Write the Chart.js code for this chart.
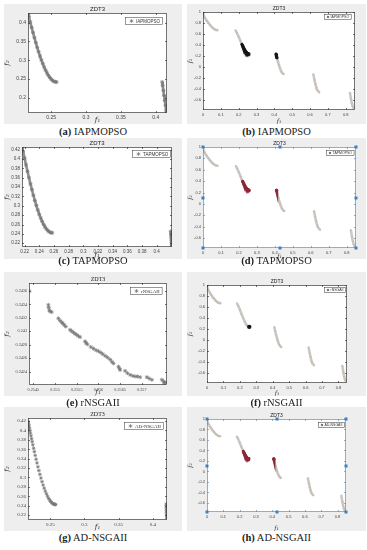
<!DOCTYPE html>
<html>
<head>
<meta charset="utf-8">
<script src="https://cdn.jsdelivr.net/npm/chart.js@4.4.0/dist/chart.umd.min.js"></script>
<style>
body { margin: 0; width: 367px; height: 550px; position: relative; overflow: hidden; background: #fff; }
.panel { position: absolute; background: #eeeeee; }
.cap { position: absolute; text-align: center; font-family: "Liberation Serif", serif; font-size: 10.5px; line-height: 12px; color: #222; }
</style>
</head>
<body>
<div class="panel" style="left:4px;top:4px;width:178px;height:120px"><canvas id="ca"></canvas></div>
<div class="panel" style="left:187px;top:4px;width:179px;height:120px"><canvas id="cb"></canvas></div>
<div class="panel" style="left:4px;top:138px;width:178px;height:121px"><canvas id="cc"></canvas></div>
<div class="panel" style="left:187px;top:138px;width:179px;height:121px"><canvas id="cd"></canvas></div>
<div class="panel" style="left:4px;top:272px;width:178px;height:124px"><canvas id="ce"></canvas></div>
<div class="panel" style="left:187px;top:272px;width:179px;height:124px"><canvas id="cf"></canvas></div>
<div class="panel" style="left:4px;top:407px;width:178px;height:124px"><canvas id="cg"></canvas></div>
<div class="panel" style="left:187px;top:407px;width:179px;height:124px"><canvas id="ch"></canvas></div>

<div class="cap" style="left:4px;top:126px;width:178px"><b>(a)</b> IAPMOPSO</div>
<div class="cap" style="left:187px;top:126px;width:179px"><b>(b)</b> IAPMOPSO</div>
<div class="cap" style="left:4px;top:255px;width:178px"><b>(c)</b> TAPMOPSO</div>
<div class="cap" style="left:187px;top:255px;width:179px"><b>(d)</b> TAPMOPSO</div>
<div class="cap" style="left:4px;top:397px;width:178px"><b>(e)</b> rNSGAII</div>
<div class="cap" style="left:187px;top:397px;width:179px"><b>(f)</b> rNSGAII</div>
<div class="cap" style="left:4px;top:532px;width:178px"><b>(g)</b> AD-NSGAII</div>
<div class="cap" style="left:187px;top:532px;width:179px"><b>(h)</b> AD-NSGAII</div>

<script>
// ZDT3 second front piece (zoomed panels a, c and the highlighted parts on the right)
var curveX = [0.2168, 0.218, 0.220, 0.222, 0.224, 0.226, 0.228, 0.230, 0.232, 0.234, 0.236, 0.238, 0.240, 0.242, 0.244, 0.246, 0.248, 0.250, 0.252, 0.254, 0.256, 0.2578];
var curveY = [0.4252, 0.4163, 0.4017, 0.3873, 0.3734, 0.3599, 0.3468, 0.3344, 0.3225, 0.3112, 0.3007, 0.2909, 0.2819, 0.2737, 0.2664, 0.2600, 0.2545, 0.2500, 0.2465, 0.2440, 0.2426, 0.2422];
var seg3X = [0.4093, 0.410, 0.411, 0.412, 0.413, 0.414, 0.415, 0.4155];
var seg3Y = [0.2423, 0.2330, 0.2197, 0.2065, 0.1933, 0.1803, 0.1674, 0.1610];

// (c) points on the right edge
var cEdgeX = [0.4192, 0.4194, 0.4196, 0.4198, 0.4200, 0.4202, 0.4203, 0.4204, 0.4205];
var cEdgeY = [0.2455, 0.2415, 0.2375, 0.2335, 0.2295, 0.2255, 0.2215, 0.2175, 0.2135];

// (e) rNSGAII solutions
var eX = [0.254408, 0.254846, 0.254854, 0.254869, 0.254885, 0.254923, 0.255077, 0.255115, 0.255154, 0.255177,
          0.255208, 0.255246, 0.255346, 0.255385, 0.255423, 0.255462, 0.255500, 0.255538, 0.255577, 0.255692,
          0.255715, 0.255746, 0.255823, 0.255885, 0.255946, 0.256000, 0.256054, 0.256100, 0.256154, 0.256208,
          0.256269, 0.256308, 0.256346, 0.256462, 0.256485, 0.256500, 0.256615, 0.256669, 0.256731, 0.256792,
          0.256846, 0.256900, 0.256962, 0.257115, 0.257169, 0.257231, 0.257462, 0.257500, 0.257515, 0.257538];
var eY = [0.243600, 0.243394, 0.243355, 0.243316, 0.243296, 0.243287, 0.243193, 0.243159, 0.243135, 0.243120,
          0.243096, 0.243071, 0.243022, 0.243002, 0.242983, 0.242963, 0.242949, 0.242929, 0.242914, 0.242851,
          0.242826, 0.242807, 0.242767, 0.242743, 0.242718, 0.242704, 0.242684, 0.242660, 0.242635, 0.242611,
          0.242581, 0.242547, 0.242522, 0.242473, 0.242444, 0.242424, 0.242410, 0.242376, 0.242351, 0.242336,
          0.242327, 0.242327, 0.242317, 0.242317, 0.242297, 0.242278, 0.242278, 0.242253, 0.242229, 0.242238];

// (g) AD-NSGAII solutions
var gX = [0.2176, 0.2180, 0.2185, 0.2190, 0.2196, 0.2203, 0.2210, 0.2218, 0.2227, 0.2236, 0.2246, 0.2257, 0.2268,
          0.2280, 0.2293, 0.2306, 0.2320, 0.2334, 0.2349, 0.2364, 0.2380, 0.2396, 0.2412, 0.2428, 0.2444, 0.2460,
          0.2476, 0.2492, 0.2506, 0.2519, 0.2531, 0.2542, 0.2552, 0.2561, 0.2570, 0.2578];
var gY = [0.4193, 0.4163, 0.4127, 0.4090, 0.4046, 0.3995, 0.3945, 0.3887, 0.3824, 0.3762, 0.3693, 0.3619, 0.3547,
          0.3468, 0.3387, 0.3308, 0.3225, 0.3146, 0.3065, 0.2987, 0.2909, 0.2837, 0.2770, 0.2708, 0.2651, 0.2600,
          0.2553, 0.2518, 0.2490, 0.2467, 0.2451, 0.2439, 0.2432, 0.2426, 0.2424, 0.2422];
var gEdgeX = [0.4194, 0.4195, 0.4196, 0.4197, 0.4198, 0.4199, 0.4200, 0.4201, 0.4202, 0.4203];
var gEdgeY = [0.2434, 0.2400, 0.2365, 0.2330, 0.2295, 0.2260, 0.2225, 0.2190, 0.2155, 0.2120];

// full ZDT3 front, five pieces (right column)
var frontX = [
  [0, 0.001, 0.0025, 0.005, 0.01, 0.02, 0.03, 0.04, 0.05, 0.06, 0.07, 0.083],
  [0.1822, 0.19, 0.20, 0.21, 0.22, 0.23, 0.24, 0.25, 0.2578],
  [0.4093, 0.415, 0.42, 0.425, 0.43, 0.44, 0.45, 0.4539],
  [0.6184, 0.625, 0.63, 0.635, 0.64, 0.6525],
  [0.8233, 0.83, 0.835, 0.84, 0.8518]
];
var frontY = [
  [1, 0.968, 0.9498, 0.9285, 0.8969, 0.8468, 0.8025, 0.7620, 0.7264, 0.6980, 0.6788, 0.6697],
  [0.6698, 0.6228, 0.5528, 0.4768, 0.4017, 0.3344, 0.2819, 0.2500, 0.2422],
  [0.2423, 0.1674, 0.1051, 0.0476, -0.0036, -0.0818, -0.1208, -0.1242],
  [-0.1243, -0.2325, -0.3034, -0.3627, -0.4087, -0.4583],
  [-0.4577, -0.5825, -0.6578, -0.7154, -0.7734]
];

// tick labels
var aXT = [0.25, 0.3, 0.35, 0.4];
var aYT = [0.2, 0.25, 0.3, 0.35, 0.4];
var cXT = [0.22, 0.24, 0.26, 0.28, 0.3, 0.32, 0.34, 0.36, 0.38, 0.4];
var cYT = [0.22, 0.24, 0.26, 0.28, 0.3, 0.32, 0.34, 0.36, 0.38, 0.4, 0.42];
var eXT = [0.2545, 0.255, 0.2555, 0.256, 0.2565, 0.257];
var eYT = [0.2424, 0.2426, 0.2428, 0.243, 0.2432, 0.2434, 0.2436];
var gXT = [0.25, 0.3, 0.35, 0.4];
var gYT = [0.22, 0.24, 0.26, 0.28, 0.3, 0.32, 0.34, 0.36, 0.38, 0.4, 0.42];
var fullXT = [0, 0.1, 0.2, 0.3, 0.4, 0.5, 0.6, 0.7, 0.8];
var fullYT = [-0.6, -0.4, -0.2, 0, 0.2, 0.4, 0.6, 0.8, 1];

function pts(xs, ys) {
    return xs.map(function (x, i) { return {x: x, y: ys[i]}; });
}

// white plot box, frame, inward ticks, title, boxed legend, selection handles
var framePlugin = {
    id: 'frame',
    beforeDraw: function (chart) {
        var a = chart.chartArea, ctx = chart.ctx;
        ctx.save();
        ctx.fillStyle = '#ffffff';
        ctx.fillRect(a.left, a.top, a.right - a.left, a.bottom - a.top);
        ctx.restore();
    },
    afterDraw: function (chart, args, o) {
        var a = chart.chartArea, ctx = chart.ctx;
        var xs = chart.scales.x, ys = chart.scales.y;
        ctx.save();
        ctx.strokeStyle = o.edge;
        ctx.lineWidth = 0.7;
        ctx.strokeRect(a.left + 0.5, a.top + 0.5, a.right - a.left - 1, a.bottom - a.top - 1);
        ctx.beginPath();
        xs.ticks.forEach(function (t) {
            var p = Math.round(xs.getPixelForValue(t.value)) + 0.5;
            ctx.moveTo(p, a.bottom); ctx.lineTo(p, a.bottom - 2);
            ctx.moveTo(p, a.top); ctx.lineTo(p, a.top + 2);
        });
        ys.ticks.forEach(function (t) {
            var p = Math.round(ys.getPixelForValue(t.value)) + 0.5;
            ctx.moveTo(a.left, p); ctx.lineTo(a.left + 2, p);
            ctx.moveTo(a.right, p); ctx.lineTo(a.right - 2, p);
        });
        ctx.stroke();

        ctx.fillStyle = '#222';
        ctx.font = o.titleFont;
        ctx.textAlign = 'center';
        ctx.textBaseline = 'bottom';
        ctx.fillText('ZDT3', (a.left + a.right) / 2, a.top - 0.5);

        var ds = chart.data.datasets[0];
        ctx.font = o.lgFont;
        var tw = ctx.measureText(ds.label).width;
        var bw = tw + o.lgPad * 2 + o.lgMark, bh = o.lgH;
        var bx = Math.round(a.right - o.lgM[0] - bw), by = Math.round(a.top + o.lgM[1]);
        ctx.fillStyle = '#ffffff';
        ctx.fillRect(bx, by, bw, bh);
        ctx.strokeStyle = '#333';
        ctx.lineWidth = 0.5;
        ctx.strokeRect(bx + 0.5, by + 0.5, bw, bh);
        ctx.strokeStyle = o.lgColor;
        ctx.fillStyle = o.lgColor;
        ctx.lineWidth = 0.8;
        Chart.helpers.drawPoint(ctx, {pointStyle: o.lgStyle, radius: o.lgR, borderWidth: 0.8, rotation: 0},
            bx + o.lgPad + o.lgMark / 2, by + bh / 2 + 0.5);
        ctx.fillStyle = '#333';
        ctx.textAlign = 'left';
        ctx.textBaseline = 'middle';
        ctx.fillText(ds.label, bx + o.lgPad + o.lgMark, by + bh / 2 + 0.8);

        if (o.handles) {
            ctx.fillStyle = '#3d7fc2';
            var mx = (a.left + a.right) / 2, my = (a.top + a.bottom) / 2;
            [[a.left, a.top], [mx, a.top], [a.right, a.top], [a.left, my], [a.right, my],
             [a.left, a.bottom], [mx, a.bottom], [a.right, a.bottom]].forEach(function (h) {
                ctx.fillRect(Math.round(h[0]) - 1.5, Math.round(h[1]) - 1.5, 3, 3);
            });
        }
        ctx.restore();
    }
};

function axes(o) {
    var tf = {size: o.fs, family: o.ff};
    var lab = {size: o.ts, family: 'DejaVu Serif', style: 'italic', lineHeight: 1};
    return {
        x: {
            type: 'linear', min: o.xr[0], max: o.xr[1],
            afterBuildTicks: function (s) { s.ticks = o.xt.map(function (v) { return {value: v}; }); },
            afterFit: function (s) { s.height = o.xh; },
            grid: {display: false, drawTicks: false}, border: {display: false},
            ticks: {font: tf, color: '#444', padding: 2, maxRotation: 0, autoSkip: false,
                    callback: function (v) { return String(v); }},
            title: {display: true, text: 'f\u2081', font: lab, color: '#333', padding: 0}
        },
        y: {
            type: 'linear', min: o.yr[0], max: o.yr[1],
            afterBuildTicks: function (s) { s.ticks = o.yt.map(function (v) { return {value: v}; }); },
            afterFit: function (s) { s.width = o.yw; },
            grid: {display: false, drawTicks: false}, border: {display: false},
            ticks: {font: tf, color: '#444', padding: 2, autoSkip: false,
                    callback: function (v) { return String(v); }},
            title: {display: true, text: 'f\u2082', font: lab, color: '#333', padding: {top: 0, bottom: 0}}
        }
    };
}

function build(id, panel, plot, o, datasets) {
    o.yw = plot[0] - panel[0];
    o.xh = panel[1] + panel[3] - plot[3];
    new Chart(document.getElementById(id), {
        type: 'scatter',
        data: {datasets: datasets},
        options: {
            animation: false,
            responsive: true,
            maintainAspectRatio: false,
            layout: {padding: {left: 0, bottom: 0, top: plot[1] - panel[1], right: panel[0] + panel[2] - plot[2]}},
            scales: axes(o),
            plugins: {legend: {display: false}, tooltip: {enabled: false}, frame: o.frame}
        },
        plugins: [framePlugin]
    });
}

function starSet(label, xs, ys, line, r) {
    return {
        label: label, data: pts(xs, ys), showLine: line,
        borderColor: '#8f8f8f', borderWidth: line ? 2.6 : 0,
        pointStyle: 'star', pointRadius: r, pointBorderColor: '#7a7a7a', pointBorderWidth: 0.8
    };
}

function frontSets(label, hiSets) {
    var out = hiSets.slice();
    frontX.forEach(function (xs, i) {
        out.push({
            label: label, data: pts(xs, frontY[i]), showLine: true, tension: 0.3,
            borderColor: '#cdc8c2', borderWidth: 2.6,
            pointRadius: 0.9, pointBackgroundColor: '#c2bcb6', pointBorderWidth: 0, order: 2
        });
    });
    return out;
}

function hiSet(label, xs, ys, color, r) {
    return {
        label: label, data: pts(xs, ys), showLine: xs.length > 1,
        borderColor: color, borderWidth: 3, pointRadius: r,
        pointBackgroundColor: color, pointBorderWidth: 0, order: 0
    };
}

function leftFrame(lgM, serif) {
    return {edge: '#3a3a3a', titleFont: (serif ? '6px "Liberation Serif"' : '6px "Liberation Sans"'),
            lgFont: (serif ? '5px "Liberation Serif"' : '4.5px "Liberation Sans"'), lgPad: 2, lgMark: 9, lgH: 7,
            lgM: lgM, lgColor: '#7a7a7a', lgStyle: 'star', lgR: 1.8};
}

function rightFrame(lgM, handles) {
    return {edge: handles ? '#5d8fbf' : '#3a3a3a', titleFont: '5px "Liberation Sans"',
            lgFont: '3.5px "Liberation Sans"', lgPad: 1.5, lgMark: 5, lgH: 5,
            lgM: lgM, lgColor: '#555', lgStyle: 'circle', lgR: 0.8, handles: handles};
}

var full = {xr: [0, 0.852], yr: [-0.774, 1], xt: fullXT, yt: fullYT, fs: 4, ff: 'Liberation Sans', ts: 6};

// (a)
build('ca', [4, 4, 178, 120], [28, 13, 167, 113],
    {xr: [0.2168, 0.4162], yr: [0.160, 0.4255], xt: aXT, yt: aYT, fs: 5, ff: 'Liberation Sans', ts: 7,
     frame: leftFrame([5, 4], false)},
    [starSet('IAPMOPSO', curveX, curveY, true, 2), starSet('IAPMOPSO', seg3X, seg3Y, true, 2)]);

// (b)
build('cb', [187, 4, 179, 120], [203, 12, 355, 110],
    Object.assign({frame: rightFrame([4, 2], false)}, full),
    frontSets('ZDT3', [hiSet('IAPMOPSO', curveX.slice(1), curveY.slice(1), '#161616', 1.4),
                       hiSet('IAPMOPSO', seg3X.slice(0, 7), seg3Y.slice(0, 7), '#161616', 1.4)]));

// (c)
build('cc', [4, 138, 178, 121], [22, 147, 172, 247],
    {xr: [0.2165, 0.4208], yr: [0.212, 0.4255], xt: cXT, yt: cYT, fs: 4.5, ff: 'Liberation Sans', ts: 7,
     frame: leftFrame([2, 3], false)},
    [starSet('TAPMOPSO', curveX, curveY, true, 2), starSet('TAPMOPSO', cEdgeX, cEdgeY, true, 2)]);

// (d)
build('cd', [187, 138, 179, 121], [203, 147, 356, 248],
    Object.assign({frame: rightFrame([2, 3], true)}, full),
    frontSets('ZDT3', [hiSet('TAPMOPSO', curveX.slice(2), curveY.slice(2), '#8c2a38', 1.4),
                       hiSet('TAPMOPSO', seg3X.slice(0, 2), seg3Y.slice(0, 2), '#8c2a38', 1.6)]));

// (e)
build('ce', [4, 272, 178, 124], [29, 283, 167, 385],
    {xr: [0.2544, 0.25758], yr: [0.2422, 0.24372], xt: eXT, yt: eYT, fs: 4.2, ff: 'Liberation Serif', ts: 7,
     frame: leftFrame([5, 4], true)},
    [starSet('rNSGAII', eX, eY, false, 2)]);

// (f)
build('cf', [187, 272, 179, 124], [207, 285, 347, 383],
    Object.assign({frame: rightFrame([2, 2], false)}, full),
    frontSets('ZDT3', [hiSet('rNSGAII', [0.2572], [0.2423], '#161616', 2.2)]));

// (g)
build('cg', [4, 407, 178, 124], [28, 418, 167, 520],
    {xr: [0.2175, 0.4205], yr: [0.2094, 0.4264], xt: gXT, yt: gYT, fs: 5, ff: 'Liberation Serif', ts: 7,
     frame: leftFrame([4, 4], true)},
    [starSet('AD-NSGAII', gX, gY, false, 1.8), starSet('AD-NSGAII', gEdgeX, gEdgeY, false, 1.8)]);

// (h)
build('ch', [187, 407, 179, 124], [207, 419, 346, 512],
    Object.assign({frame: rightFrame([2, 3], true)}, full),
    frontSets('ZDT3', [hiSet('AD-NSGAII', curveX.slice(3), curveY.slice(3), '#8c2a38', 1.4),
                       hiSet('AD-NSGAII', seg3X.slice(0, 2), seg3Y.slice(0, 2), '#8c2a38', 1.6)]));
</script>
</body>
</html>
